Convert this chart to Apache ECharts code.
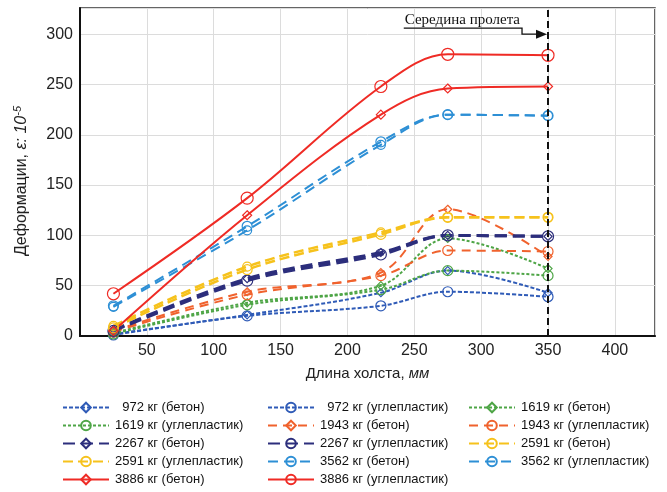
<!DOCTYPE html>
<html>
<head>
<meta charset="utf-8">
<script src="https://cdn.jsdelivr.net/npm/echarts@6/dist/echarts.min.js"></script>
<style>
html,body{margin:0;padding:0;background:#fff;}
#c{width:667px;height:492px;}
</style>
</head>
<body>
<div id="c"></div>
<script>
// ---- data ----
const xVals = [25, 125, 225, 275, 350];
const s972b  = [2, 21, 43, 65, 43];
const s972u  = [1, 20, 30, 44, 39];
const s1619b = [3, 33, 50, 97, 67];
const s1619u = [2, 31, 46, 65, 60];
const s1943b = [5, 44, 63, 126, 79];
const s1943u = [4, 41, 60, 85, 84];
const s2267b = [6, 57, 83, 100, 99];
const s2267u = [5, 55, 81, 100, 99];
const s2591b = [10, 69, 103, 118, 118];
const s2591u = [8, 66, 101, 118, 118];
const s3562b = [29, 105, 190, 220, 219];
const s3562u = [30, 109, 193, 220, 219];
const s3886b = [5, 120, 220, 246, 248];
const s3886u = [42, 137, 248, 280, 279];
const xTicks = [50, 100, 150, 200, 250, 300, 350, 400];
const yTicks = [0, 50, 100, 150, 200, 250, 300];
const MID_X = 350;
const ARROW_Y = 300;
const midLabel = 'Середина пролета';

const names = {
  b972: '972 кг (бетон)', u972: '972 кг (углепластик)',
  b1619: '1619 кг (бетон)', u1619: '1619 кг (углепластик)',
  b1943: '1943 кг (бетон)', u1943: '1943 кг (углепластик)',
  b2267: '2267 кг (бетон)', u2267: '2267 кг (углепластик)',
  b2591: '2591 кг (бетон)', u2591: '2591 кг (углепластик)',
  b3562: '3562 кг (бетон)', u3562: '3562 кг (углепластик)',
  b3886: '3886 кг (бетон)', u3886: '3886 кг (углепластик)'
};

function mk(name, vals, color, dash, width, symbol, size) {
  return {
    name: name,
    type: 'line',
    smooth: 0.35,
    data: xVals.map((x, i) => [x, vals[i]]),
    symbol: symbol,
    symbolSize: size,
    lineStyle: { color: color, width: width, type: dash },
    itemStyle: { color: 'rgba(255,255,255,0)', borderColor: color, borderWidth: 1.2 },
    emphasis: { disabled: true }
  };
}

const BLUE = '#2f5bb7', GREEN = '#4ea546', ORANGE = '#f0622d', NAVY = '#2c2e7c',
      YELLOW = '#f6c21c', LBLUE = '#2d8fd5', RED = '#ef2b25';

const series = [
  mk(names.b972, s972b, BLUE, [4, 2], 2, 'diamond', 8),
  mk(names.u972, s972u, BLUE, [4, 2], 2, 'circle', 10),
  mk(names.b1619, s1619b, GREEN, [3, 2], 2, 'diamond', 8),
  mk(names.u1619, s1619u, GREEN, [3, 2], 2, 'circle', 10),
  mk(names.b1943, s1943b, ORANGE, [9, 6], 2, 'diamond', 8),
  mk(names.u1943, s1943u, ORANGE, [9, 6], 2, 'circle', 10),
  mk(names.b2267, s2267b, NAVY, [12, 6], 3, 'diamond', 8),
  mk(names.u2267, s2267u, NAVY, [12, 6], 3, 'circle', 11),
  mk(names.b2591, s2591b, YELLOW, [10, 5], 2.5, 'circle', 9),
  mk(names.u2591, s2591u, YELLOW, [10, 5], 2.5, 'circle', 10),
  mk(names.b3562, s3562b, LBLUE, [10, 6], 2, 'circle', 9),
  mk(names.u3562, s3562u, LBLUE, [10, 6], 2, 'circle', 10),
  mk(names.b3886, s3886b, RED, 'solid', 2, 'diamond', 9),
  mk(names.u3886, s3886u, RED, 'solid', 2, 'circle', 12)
];
series[series.length - 1].markLine = {
  silent: true,
  symbol: ['none', 'none'],
  label: { show: false },
  lineStyle: { color: '#111', width: 2, type: [7, 4] },
  data: [{ xAxis: MID_X }]
};

const legendCols = [
  [names.b972, names.u1619, names.b2267, names.u2591, names.b3886],
  [names.u972, names.b1943, names.u2267, names.b3562, names.u3886],
  [names.b1619, names.u1943, names.b2591, names.u3562]
];
const legendLeft = [62, 267, 468];

function legend(i) {
  return {
    orient: 'vertical',
    left: legendLeft[i],
    top: 401,
    height: 110,
    padding: 0,
    data: legendCols[i],
    itemWidth: 46,
    itemHeight: 12,
    itemGap: 5,
    selectedMode: false,
    formatter: n => n.startsWith('972') ? '\u2007' + n : n,
    textStyle: { fontFamily: 'Liberation Sans', fontSize: 13, color: '#111', padding: [0, 0, 0, 1] }
  };
}

const chart = echarts.init(document.getElementById('c'), null, { renderer: 'canvas' });
chart.setOption({
  animation: false,
  backgroundColor: '#fff',
  grid: { left: 80, right: 12, top: 8, bottom: 156, show: true, borderColor: '#333', borderWidth: 1.5 },
  legend: [legend(0), legend(1), legend(2)],
  xAxis: {
    type: 'value', min: 0, max: 430, interval: 50,
    axisLine: { show: true, onZero: false, lineStyle: { color: '#111', width: 2 } },
    axisTick: { show: false },
    splitLine: { show: true, lineStyle: { color: '#dcdcdc', width: 1 } },
    axisLabel: {
      margin: 7, fontFamily: 'Liberation Sans', fontSize: 16, color: '#222',
      formatter: v => xTicks.indexOf(v) >= 0 ? String(v) : ''
    },
    name: '{n|Длина холста, }{i|мм}',
    nameLocation: 'middle', nameGap: 30,
    nameTextStyle: {
      rich: {
        n: { fontFamily: 'Liberation Sans', fontSize: 15, color: '#222' },
        i: { fontFamily: 'Liberation Sans', fontSize: 15, fontStyle: 'italic', color: '#222' }
      }
    }
  },
  yAxis: {
    type: 'value', min: 0, max: 326, interval: 50,
    axisLine: { show: true, lineStyle: { color: '#111', width: 2 } },
    axisTick: { show: false },
    splitLine: { show: true, lineStyle: { color: '#dcdcdc', width: 1 } },
    axisLabel: {
      margin: 7, fontFamily: 'Liberation Sans', fontSize: 16, color: '#222',
      formatter: v => yTicks.indexOf(v) >= 0 ? String(v) : ''
    },
    name: '{n|Деформации, }{i|ε: 10}{s|-5}',
    nameLocation: 'middle', nameGap: 49,
    nameTextStyle: {
      padding: [0, 18, 0, 0],
      rich: {
        n: { fontFamily: 'Liberation Sans', fontSize: 16, color: '#222' },
        i: { fontFamily: 'Liberation Sans', fontSize: 16, fontStyle: 'italic', color: '#222' },
        s: { fontFamily: 'Liberation Sans', fontSize: 11, fontStyle: 'italic', color: '#222', verticalAlign: 'top', padding: [0, 0, 8, 0] }
      }
    }
  },
  series: series
});

// annotation "Середина пролета" with arrow pointing at the mid-span line
const p = chart.convertToPixel({ xAxisIndex: 0, yAxisIndex: 0 }, [MID_X, ARROW_Y]);
const font = '15px "Liberation Serif"';
const ctx = document.createElement('canvas').getContext('2d');
ctx.font = font;
const tw = ctx.measureText(midLabel).width;
const bendX = p[0] - 26;
const underY = p[1] - 6;
chart.setOption({
  graphic: [
    { type: 'text', x: bendX - 2, y: underY - 1, style: { text: midLabel, font: font, fill: '#111', textAlign: 'right', textVerticalAlign: 'bottom' } },
    { type: 'polyline', shape: { points: [[bendX - tw - 3, underY], [bendX, underY], [bendX, p[1]], [p[0] - 10, p[1]]] }, style: { stroke: '#111', lineWidth: 1.3, fill: null } },
    { type: 'polygon', shape: { points: [[p[0] - 12, p[1] - 4.5], [p[0] - 1, p[1]], [p[0] - 12, p[1] + 4.5]] }, style: { fill: '#111' } }
  ]
});
</script>
</body>
</html>
